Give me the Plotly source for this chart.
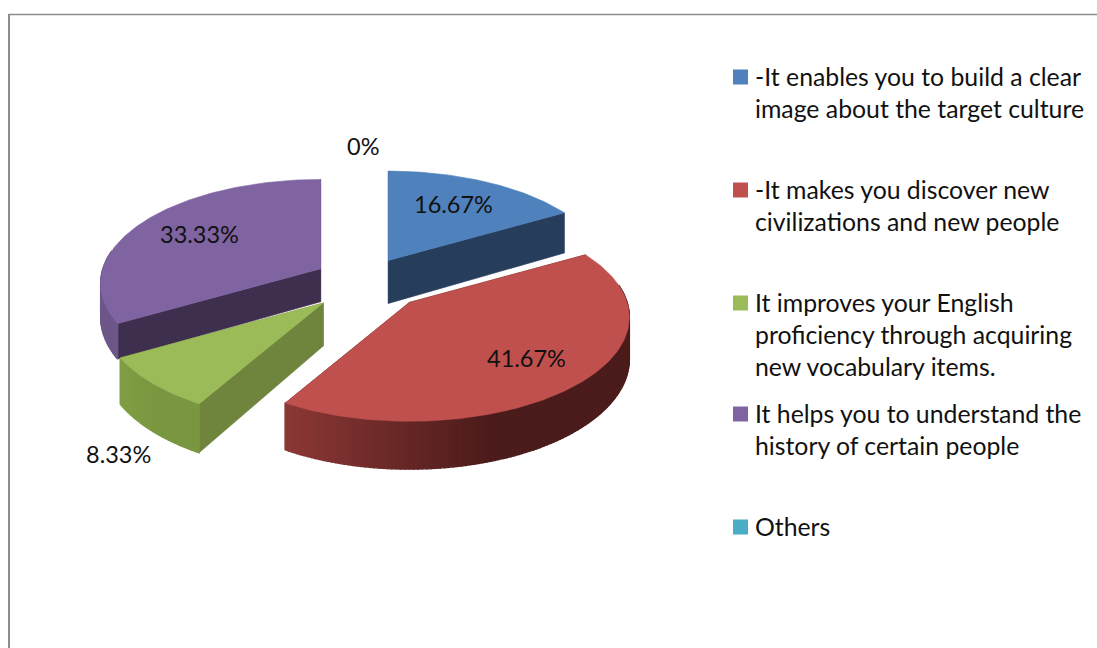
import math
import plotly.graph_objects as go

# values, clockwise from 12 o'clock
CATEGORIES = [
    "-It enables you to build a clear<br>image about the target culture",
    "-It makes you discover new<br>civilizations and new people",
    "It improves your English<br>proficiency through acquiring<br>new vocabulary items.",
    "It helps you to understand the<br>history of certain people",
    "Others",
]
VALUES = [16.67, 41.67, 8.33, 33.33, 0]

TOP_COLORS = ["#4f81bd", "#c0504d", "#9bbb59", "#8064a2", "#4bacc6"]
WALL_COLORS = ["#263d5c", "#4d1d1c", "#6f853d", "#3f2f4f", "#2f6f80"]
RIM_LEFT = ["#2f4d73", "#8c3836", "#809e45", "#6d5789", "#3a8aa0"]
RIM_RIGHT = ["#2f4d73", "#4b1c1b", "#7a9640", "#6d5789", "#3a8aa0"]

# pie projection, in page pixels
CENTER = (366, 283)
EXPLODE = [0.24, 0.262, 0.27, 0.245, 0.27]
NUDGE = [(-3, -2), (2, 0), (0, 0), (0, -2), (0, 0)]
DEPTH = [43, 41, 43, 33, 41]
RX, RY, PERSP = 217.7, 102, 0.142
LABEL_POS = [(453, 204), (526, 358), (118, 454), (199, 234), (363, 146)]
LEGEND_ROWS = [77, 190, 303, 414, 527]
LINE_GAP = 32
FONT = "Lato"


def project(theta, r=1.0):
    s, c = math.sin(math.radians(theta)), math.cos(math.radians(theta))
    w = 1 + PERSP * c * r
    return RX * s * r / w, -RY * c * r / w


def wall_height(theta, depth):
    return depth / (1 + PERSP * math.cos(math.radians(theta)))


def mix(a, b, t):
    pa = [int(a[i:i + 2], 16) for i in (1, 3, 5)]
    pb = [int(b[i:i + 2], 16) for i in (1, 3, 5)]
    return "rgb(%d,%d,%d)" % tuple(x + (y - x) * t for x, y in zip(pa, pb))


def polygon(fig, xs, ys, color, name=None, width=0.6):
    fig.add_trace(go.Scatter(
        x=xs + xs[:1], y=ys + ys[:1],
        mode="lines", fill="toself", fillcolor=color,
        line=dict(color=color, width=width),
        name=name, hoverinfo="name" if name else "skip",
        showlegend=False,
    ))


fig = go.Figure()

# slice angles come from the values
total = sum(VALUES)
spans = []
start = 0
for v in VALUES:
    spans.append((start, start + 360 * v / total))
    start += 360 * v / total

for i in [3, 0, 2, 1]:  # back to front
    a0, a1 = spans[i]
    mid = (a0 + a1) / 2
    ex, ey = project(mid, EXPLODE[i])
    ax, ay = CENTER[0] + ex + NUDGE[i][0], CENTER[1] + ey + NUDGE[i][1]
    n = max(int(a1 - a0), 2)
    angles = [a0 + (a1 - a0) * j / n for j in range(n + 1)]
    rim = [(ax + project(t)[0], ay + project(t)[1]) for t in angles]
    depth = DEPTH[i]

    # straight cut walls
    for t, (x, y) in ((a0, rim[0]), (a1, rim[-1])):
        polygon(fig, [ax, x, x, ax], [ay, y, y + wall_height(t, depth), ay + depth], WALL_COLORS[i])

    # curved outer wall, only the side facing the viewer
    xmin, xmax = min(p[0] for p in rim), max(p[0] for p in rim)
    for j in range(n):
        if not 80 <= angles[j] <= 280:
            continue
        x0, y0 = rim[j]
        x1, y1 = rim[j + 1]
        t = min(((x0 + x1) / 2 - xmin) / (0.6 * (xmax - xmin)), 1)
        polygon(fig, [x0, x1, x1, x0],
                [y0, y1, y1 + wall_height(angles[j + 1], depth), y0 + wall_height(angles[j], depth)],
                mix(RIM_LEFT[i], RIM_RIGHT[i], t), width=1.4)

    polygon(fig, [ax] + [p[0] for p in rim], [ay] + [p[1] for p in rim],
            TOP_COLORS[i], CATEGORIES[i].replace("<br>", " "))

annotations = []
for v, (x, y) in zip(VALUES, LABEL_POS):
    annotations.append(dict(x=x, y=y, text=f"{v:g}%", showarrow=False,
                            font=dict(family=FONT, size=23.5, color="#111111")))

shapes = [
    dict(type="line", x0=8.5, x1=1097, y0=14.5, y1=14.5, line=dict(color="#8c8c8c", width=1.5)),
    dict(type="line", x0=9, x1=9, y0=14, y1=648, line=dict(color="#8c8c8c", width=2)),
]
for label, color, row in zip(CATEGORIES, TOP_COLORS, LEGEND_ROWS):
    shapes.append(dict(type="rect", x0=733, x1=748, y0=row - 7.5, y1=row + 7.5,
                       fillcolor=color, line=dict(width=0)))
    for k, line in enumerate(label.split("<br>")):
        annotations.append(dict(x=753, y=row - 1 + k * LINE_GAP, text=line, showarrow=False,
                                xanchor="left",
                                font=dict(family=FONT, size=24.8, color="#111111")))

fig.update_layout(
    width=1097, height=648,
    margin=dict(l=0, r=0, t=0, b=0),
    paper_bgcolor="white", plot_bgcolor="white",
    xaxis=dict(range=[0, 1097], visible=False),
    yaxis=dict(range=[648, 0], visible=False),
    shapes=shapes, annotations=annotations,
    showlegend=False,
)

fig.write_html("out.html", config=dict(displayModeBar=False),
               post_script="document.body.style.margin='0';")
